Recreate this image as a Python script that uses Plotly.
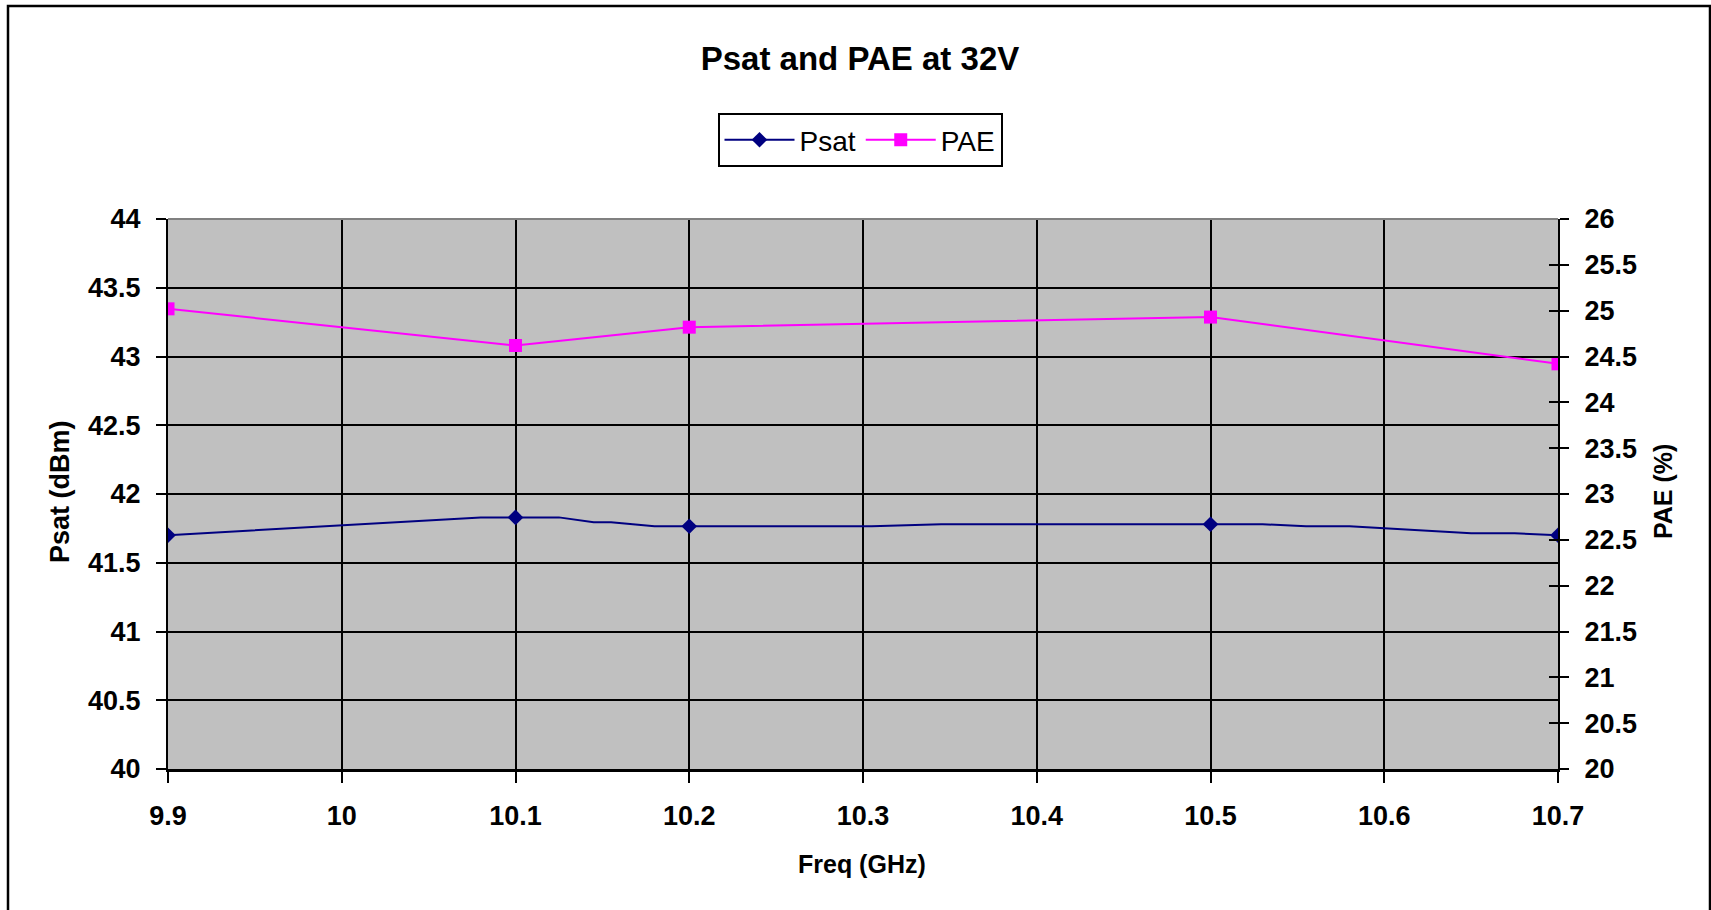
import plotly.graph_objects as go

# ---- data ----
psat_freq = [9.9, 9.95, 10.0, 10.08, 10.1, 10.125, 10.145, 10.155, 10.18, 10.2,
             10.305, 10.345, 10.5, 10.53, 10.555, 10.58, 10.65, 10.675, 10.7]
psat_dbm = [41.70, 41.735, 41.775, 41.83, 41.83, 41.83, 41.795, 41.795, 41.765, 41.765,
            41.765, 41.78, 41.78, 41.78, 41.765, 41.765, 41.715, 41.715, 41.70]
marker_freq = [9.9, 10.1, 10.2, 10.5, 10.7]
pae_freq = [9.9, 10.1, 10.2, 10.5, 10.7]
pae_pct = [25.02, 24.62, 24.82, 24.93, 24.42]

x_tickvals = [9.9, 10.0, 10.1, 10.2, 10.3, 10.4, 10.5, 10.6, 10.7]
x_ticktext = ["9.9", "10", "10.1", "10.2", "10.3", "10.4", "10.5", "10.6", "10.7"]
y1_tickvals = [40, 40.5, 41, 41.5, 42, 42.5, 43, 43.5, 44]
y1_ticktext = ["40", "40.5", "41", "41.5", "42", "42.5", "43", "43.5", "44"]
y2_tickvals = [20, 20.5, 21, 21.5, 22, 22.5, 23, 23.5, 24, 24.5, 25, 25.5, 26]
y2_ticktext = ["20", "20.5", "21", "21.5", "22", "22.5", "23", "23.5", "24", "24.5", "25", "25.5", "26"]

marker_dbm = [psat_dbm[psat_freq.index(f)] for f in marker_freq]

NAVY = "#000080"
MAG = "#FF00FF"
FONT = "Liberation Sans, Arial, sans-serif"

W, H = 1711, 910
L, R, T, B = 168, W - 1558, 219, H - 769
PW, PH = W - L - R, H - T - B


def px_x(p):
    return (p - L) / PW


def px_y(p):
    return (H - B - p) / PH


fig = go.Figure()
fig.add_trace(go.Scatter(x=psat_freq, y=psat_dbm, mode="lines", line=dict(color=NAVY, width=2),
                         showlegend=False, hoverinfo="skip"))
fig.add_trace(go.Scatter(x=marker_freq, y=marker_dbm, mode="markers",
                         marker=dict(symbol="diamond", size=12, color=NAVY), showlegend=False))
fig.add_trace(go.Scatter(x=[None], y=[None], mode="lines+markers", name="Psat",
                         line=dict(color=NAVY, width=2), marker=dict(symbol="diamond", size=12, color=NAVY)))
fig.add_trace(go.Scatter(x=pae_freq, y=pae_pct, mode="lines+markers", name="PAE", yaxis="y2",
                         line=dict(color=MAG, width=2), marker=dict(symbol="square", size=13, color=MAG)))

tickfont = dict(family=FONT, size=27, color="black", weight="bold")

fig.update_layout(
    width=W, height=H,
    margin=dict(l=L, r=R, t=T, b=B, autoexpand=False),
    paper_bgcolor="white", plot_bgcolor="#C0C0C0",
    font=dict(family=FONT, color="black"),
    title=dict(text="Psat and PAE at 32V", x=860 / W, xref="container", xanchor="center",
               y=1 - 58 / H, yref="container", yanchor="middle",
               font=dict(family=FONT, size=33, color="black", weight="bold")),
    legend=dict(orientation="h", x=px_x(860), xanchor="center", y=px_y(140), yanchor="middle",
                bordercolor="black", borderwidth=2, bgcolor="white",
                font=dict(family=FONT, size=28, color="black"), itemwidth=70, tracegroupgap=0),
    xaxis=dict(range=[9.9, 10.7], tickvals=x_tickvals, ticktext=x_ticktext, tickfont=tickfont,
               showgrid=True, gridcolor="black", gridwidth=1.5,
               showline=True, linecolor="black", linewidth=3,
               ticks="outside", ticklen=11, tickwidth=1.5, tickcolor="black", zeroline=False,
               ticklabelstandoff=10),
    yaxis=dict(range=[40, 44], tickvals=y1_tickvals, ticktext=y1_ticktext, tickfont=tickfont,
               showgrid=True, gridcolor="black", gridwidth=2,
               showline=True, linecolor="black", linewidth=2,
               ticks="outside", ticklen=10, tickwidth=2, tickcolor="black", zeroline=False,
               ticklabelstandoff=10),
    yaxis2=dict(range=[20, 26], tickvals=y2_tickvals, ticktext=y2_ticktext, tickfont=tickfont,
                overlaying="y", side="right", anchor="x", showgrid=False,
                showline=True, linecolor="black", linewidth=2,
                ticks="outside", ticklen=9, tickwidth=2, tickcolor="black", zeroline=False,
                ticklabelstandoff=10),
    yaxis3=dict(range=[20, 26], tickvals=y2_tickvals, overlaying="y", side="right", anchor="x",
                showgrid=False, showticklabels=False, showline=False,
                ticks="inside", ticklen=9, tickwidth=2, tickcolor="black", zeroline=False),
    annotations=[
        dict(text="Psat (dBm)", xref="paper", yref="paper", x=px_x(60), y=px_y(492),
             xanchor="center", yanchor="middle", textangle=-90, showarrow=False,
             font=dict(family=FONT, size=27, color="black", weight="bold")),
        dict(text="PAE (%)", xref="paper", yref="paper", x=px_x(1663), y=px_y(492),
             xanchor="center", yanchor="middle", textangle=-90, showarrow=False,
             font=dict(family=FONT, size=25, color="black", weight="bold")),
        dict(text="Freq (GHz)", xref="paper", yref="paper", x=px_x(862), y=px_y(864),
             xanchor="center", yanchor="middle", showarrow=False,
             font=dict(family=FONT, size=25, color="black", weight="bold")),
    ],
    shapes=[
        dict(type="line", xref="paper", yref="paper", x0=0, x1=1, y0=1, y1=1,
             line=dict(color="#808080", width=2)),
        dict(type="rect", xref="paper", yref="paper", x0=px_x(8), x1=px_x(1710),
             y0=px_y(6), y1=px_y(930), line=dict(color="black", width=2.5),
             fillcolor="rgba(0,0,0,0)", layer="above"),
    ],
)
fig.add_trace(go.Scatter(x=[None], y=[None], yaxis="y3", showlegend=False))

fig.write_html("out.html")
